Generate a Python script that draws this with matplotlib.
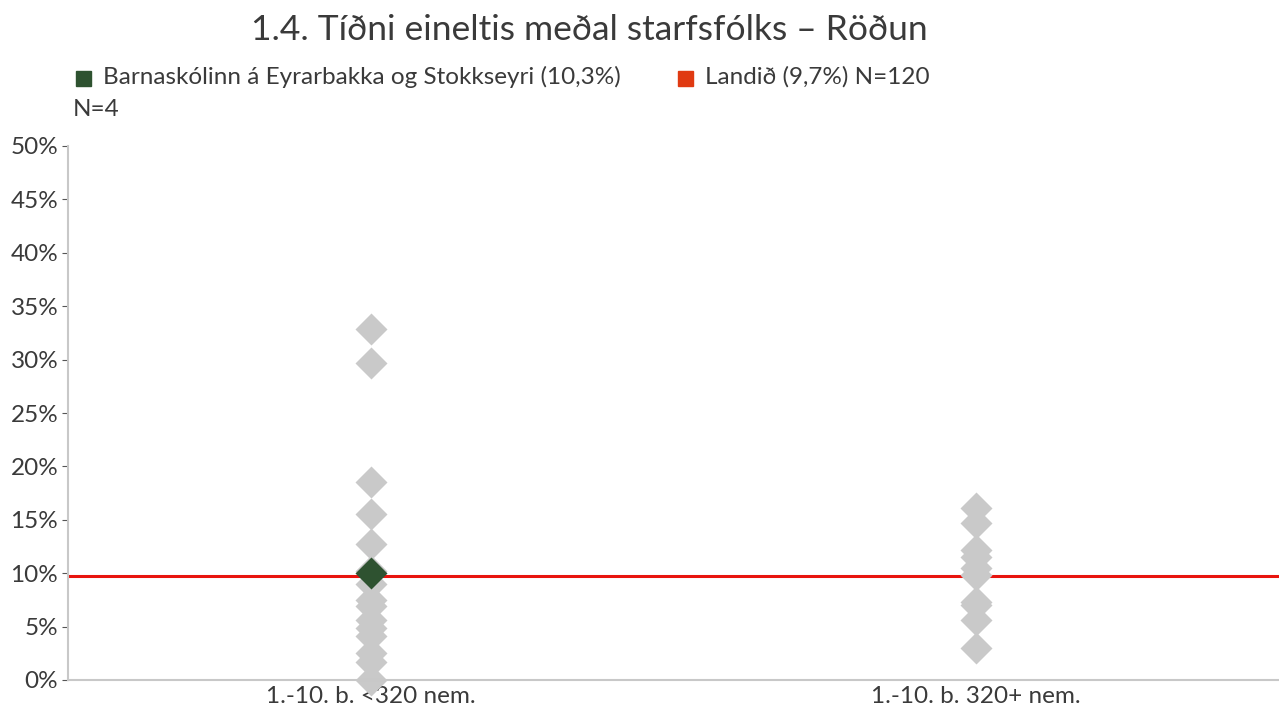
import matplotlib.pyplot as plt
from matplotlib.patches import Rectangle

plt.rcParams['font.family'] = ['Lato', 'DejaVu Sans']

# categories and values (percent)
categories = ['1.-10. b. <320 nem.', '1.-10. b. 320+ nem.']
small_schools = [32.9, 29.7, 18.5, 15.5, 12.7, 10.2, 9.0, 7.5, 6.9, 5.6, 4.9,
                 4.1, 2.5, 1.7, 0.0]
large_schools = [16.1, 14.7, 12.2, 11.5, 10.5, 9.8, 7.3, 7.0, 5.6, 3.0]
school_value = 10.0
national_value = 9.7
yticks = [0, 5, 10, 15, 20, 25, 30, 35, 40, 45, 50]

gray = '#C9C9C9'
green = '#2E5230'
red = '#E8140E'
legend_red = '#E03A12'
text_col = '#3A3A3A'
fs = 17.5

fig = plt.figure(figsize=(12.79, 7.08), dpi=100)
ax = fig.add_axes([68 / 1279, 28 / 708, 1211 / 1279, 534 / 708])

ax.axhline(national_value, color=red, lw=2.2, zorder=1)
ax.plot([0] * len(small_schools), small_schools, 'D', color=gray, ms=16,
        mec='none', zorder=2, clip_on=False)
ax.plot([1] * len(large_schools), large_schools, 'D', color=gray, ms=16,
        mec='none', zorder=2, clip_on=False)
ax.plot([0], [school_value], 'D', color=green, ms=16, mec='none', zorder=3)

ax.set_xlim(-0.5, 1.5)
ax.set_ylim(0, 50)
ax.set_yticks(yticks)
ax.set_yticklabels([f'{t}%' for t in yticks])
ax.set_xticks([0, 1])
ax.set_xticklabels(categories)
ax.tick_params(axis='y', length=4, color='#555555', labelsize=fs,
               labelcolor=text_col, pad=3)
ax.tick_params(axis='x', length=0, labelsize=fs, labelcolor=text_col, pad=4)
for lbl in ax.get_xticklabels():
    lbl.set_zorder(5)
for s in ['top', 'right']:
    ax.spines[s].set_visible(False)
ax.spines['left'].set_color('#C8C8C8')
ax.spines['left'].set_linewidth(1.5)
ax.spines['bottom'].set_color('#C8C8C8')
ax.spines['bottom'].set_linewidth(1.5)

fig.text(0.461, 0.957, '1.4. Tíðni eineltis meðal starfsfólks – Röðun',
         ha='center', va='center', fontsize=25.5, color=text_col)

# legend
fig.patches.append(Rectangle((76 / 1279, 1 - 86 / 708), 15 / 1279, 15 / 708,
                             transform=fig.transFigure, color=green))
fig.text(103 / 1279, 1 - 77 / 708,
         'Barnaskólinn á Eyrarbakka og Stokkseyri (10,3%)',
         va='center', fontsize=fs, color=text_col)
fig.patches.append(Rectangle((678 / 1279, 1 - 86 / 708), 15 / 1279, 15 / 708,
                             transform=fig.transFigure, color=legend_red))
fig.text(705 / 1279, 1 - 77 / 708, 'Landið (9,7%) N=120',
         va='center', fontsize=fs, color=text_col)
fig.text(73 / 1279, 1 - 110 / 708, 'N=4', va='center', fontsize=fs,
         color=text_col)

fig.savefig('out.png', dpi=100)
